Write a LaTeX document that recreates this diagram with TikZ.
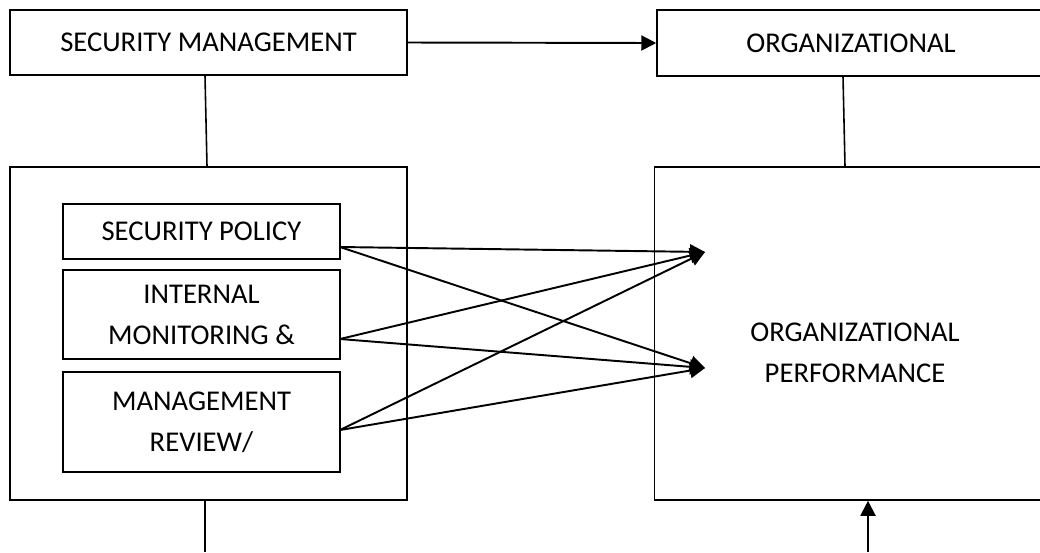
\documentclass[tikz,border=0pt]{standalone}
\usepackage{fontspec}
\setmainfont{Carlito}
\usepackage{tikz}
\usetikzlibrary{arrows.meta}
\newcommand{\boxfont}{\fontsize{16.3}{23.3}\selectfont}

\begin{document}
\begin{tikzpicture}[x=0.02cm,y=-0.02cm,
    box/.style={draw,line width=0.9pt,inner sep=0pt,align=center,font=\boxfont},
    arr/.style={line width=1.1pt,-{Triangle[length=0.3cm,width=0.3cm]}}]
    \useasboundingbox (0,0) rectangle (1040,552);
    \node[box,minimum width=7.94cm,minimum height=1.3cm] (secmgmt) at (208.5,42.5) {SECURITY MANAGEMENT};
    \node[box,minimum width=7.76cm,minimum height=1.32cm] (org) at (851,43) {ORGANIZATIONAL};
    \node[box,minimum width=7.94cm,minimum height=6.66cm] (secbox) at (208.5,333.5) {};
    \node[box,minimum width=7.9cm,minimum height=6.66cm] (perfbox) at (852,333.5) {};
    \node[align=center,font=\boxfont] (perf) at (855,353) {ORGANIZATIONAL\\PERFORMANCE};
    \node[box,minimum width=5.54cm,minimum height=1.1cm] (policy) at (201.5,231.5) {SECURITY POLICY};
    \node[box,minimum width=5.54cm,minimum height=1.78cm] (monitor) at (201.5,314.5) {INTERNAL\\MONITORING \&};
    \node[box,minimum width=5.54cm,minimum height=2cm] (review) at (201.5,422) {MANAGEMENT\\REVIEW/};
    \coordinate (policyout) at (340,247);
    \coordinate (monitorout) at (340,339);
    \coordinate (reviewout) at (340,430);
    \coordinate (tipa) at (705,252);
    \coordinate (tipb) at (705,368);
    \coordinate (secdown) at (205,552);
    \coordinate (perfin) at (868,552);
    \draw[arr] (secmgmt.east)--(org.west);
    \draw[line width=0.9pt] ([xshift=-0.07cm]secmgmt.south)--([xshift=-0.03cm]secbox.north);
    \draw[line width=0.9pt] ([xshift=-0.16cm]org.south)--([xshift=-0.14cm]perfbox.north);
    \draw[arr] (policyout)--(tipa);
    \draw[arr] (policyout)--(tipb);
    \draw[arr] (monitorout)--(tipa);
    \draw[arr] (monitorout)--(tipb);
    \draw[arr] (reviewout)--(tipa);
    \draw[arr] (reviewout)--(tipb);
    \draw[line width=0.9pt] (secdown |- secbox.south)--(secdown);
    \draw[arr] (perfin)--(perfin |- perfbox.south);
\end{tikzpicture}
\end{document}
